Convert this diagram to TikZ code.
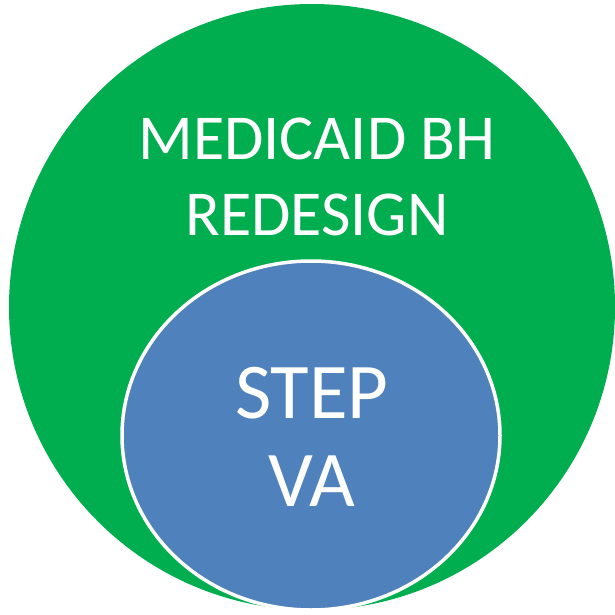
\documentclass[tikz,border=0pt]{standalone}
\usepackage{fontspec}
\setmainfont{Carlito}
\usepackage{tikz}
\usetikzlibrary{shapes.geometric}
\definecolor{bhgreen}{HTML}{00AE50}
\definecolor{vablue}{HTML}{4F81BD}
\tikzset{/VEN/outer/.style={
	shape=circle, fill=bhgreen, inner sep=0pt
}}
\tikzset{/VEN/inner/.style={
	shape=ellipse, fill=vablue, draw=white, line width=3.5pt, inner sep=0pt
}}
\tikzset{/VEN/label/.style={
	text=white, align=center, inner sep=0pt, anchor=base
}}

\begin{document}
\begin{tikzpicture}[x=1pt, y=-1pt]
			\useasboundingbox (0,0) rectangle (615,615);
			\path (312,307) node[/VEN/outer, minimum size=606pt] (redesign) {};
			\path (311,435.5) node[/VEN/inner, minimum width=378pt, minimum height=349pt] (step) {};
			\path (317,235) node[/VEN/label, font=\fontsize{64}{76}\selectfont] (redesigntext) {MEDICAID BH\\REDESIGN};
			\path (312,506) node[/VEN/label, font=\fontsize{79}{88}\selectfont] (steptext) {STEP\\VA};
		\end{tikzpicture}
\end{document}
